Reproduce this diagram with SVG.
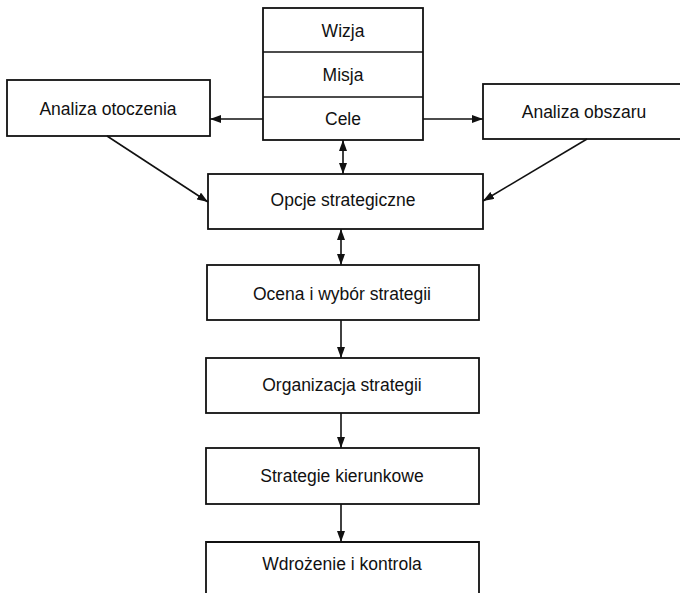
<svg xmlns="http://www.w3.org/2000/svg" width="680" height="593" viewBox="0 0 680 593">
<style>
.box{fill:#fff;stroke:#111;stroke-width:1.8}
.t{font-family:"Liberation Sans",Arial,sans-serif;font-size:17.5px;fill:#111;text-anchor:middle}
.c{stroke:#111;stroke-width:1.6;fill:none}
</style>
<defs>
<marker id="ah" viewBox="0 0 11 8" refX="11" refY="4" markerWidth="11" markerHeight="8" markerUnits="userSpaceOnUse" orient="auto-start-reverse">
<path d="M0,0 L11,4 L0,8 z" fill="#111"/>
</marker>
</defs>
<rect width="680" height="593" fill="#fff"/>
<g id="cele-stack">
<rect class="box" x="263" y="8" width="160" height="132"/>
<line class="c" x1="263" y1="52" x2="423" y2="52"/>
<line class="c" x1="263" y1="97" x2="423" y2="97"/>
<text class="t" x="343" y="37">Wizja</text>
<text class="t" x="343" y="81">Misja</text>
<text class="t" x="343" y="125">Cele</text>
</g>
<g id="analiza-otoczenia">
<rect class="box" x="7" y="80" width="203" height="56"/>
<text class="t" x="108" y="115">Analiza otoczenia</text>
</g>
<g id="analiza-obszaru">
<rect class="box" x="483" y="84" width="204" height="55"/>
<text class="t" x="584" y="118">Analiza obszaru</text>
</g>
<g id="opcje">
<rect class="box" x="208" y="174" width="275" height="55"/>
<text class="t" x="343" y="206">Opcje strategiczne</text>
</g>
<g id="ocena">
<rect class="box" x="207" y="265" width="272" height="55"/>
<text class="t" x="342" y="300">Ocena i wybór strategii</text>
</g>
<g id="organizacja">
<rect class="box" x="206" y="358" width="273" height="55"/>
<text class="t" x="342" y="391">Organizacja strategii</text>
</g>
<g id="kierunkowe">
<rect class="box" x="206" y="448" width="273" height="56"/>
<text class="t" x="342" y="482">Strategie kierunkowe</text>
</g>
<g id="wdrozenie">
<path class="box" d="M206,600 L206,542 L479,542 L479,600"/>
<text class="t" x="342" y="570">Wdrożenie i kontrola</text>
</g>
<g id="connectors">
<line class="c" x1="263" y1="119" x2="210" y2="119" marker-end="url(#ah)"/>
<line class="c" x1="423" y1="119" x2="483" y2="119" marker-end="url(#ah)"/>
<line class="c" x1="343" y1="140" x2="343" y2="174" marker-start="url(#ah)" marker-end="url(#ah)"/>
<line class="c" x1="107" y1="136" x2="208" y2="202" marker-end="url(#ah)"/>
<line class="c" x1="587" y1="139" x2="483" y2="201" marker-end="url(#ah)"/>
<line class="c" x1="341" y1="229" x2="341" y2="265" marker-start="url(#ah)" marker-end="url(#ah)"/>
<line class="c" x1="341" y1="320" x2="341" y2="358" marker-end="url(#ah)"/>
<line class="c" x1="341" y1="413" x2="341" y2="448" marker-end="url(#ah)"/>
<line class="c" x1="341" y1="504" x2="341" y2="542" marker-end="url(#ah)"/>
</g>
</svg>
